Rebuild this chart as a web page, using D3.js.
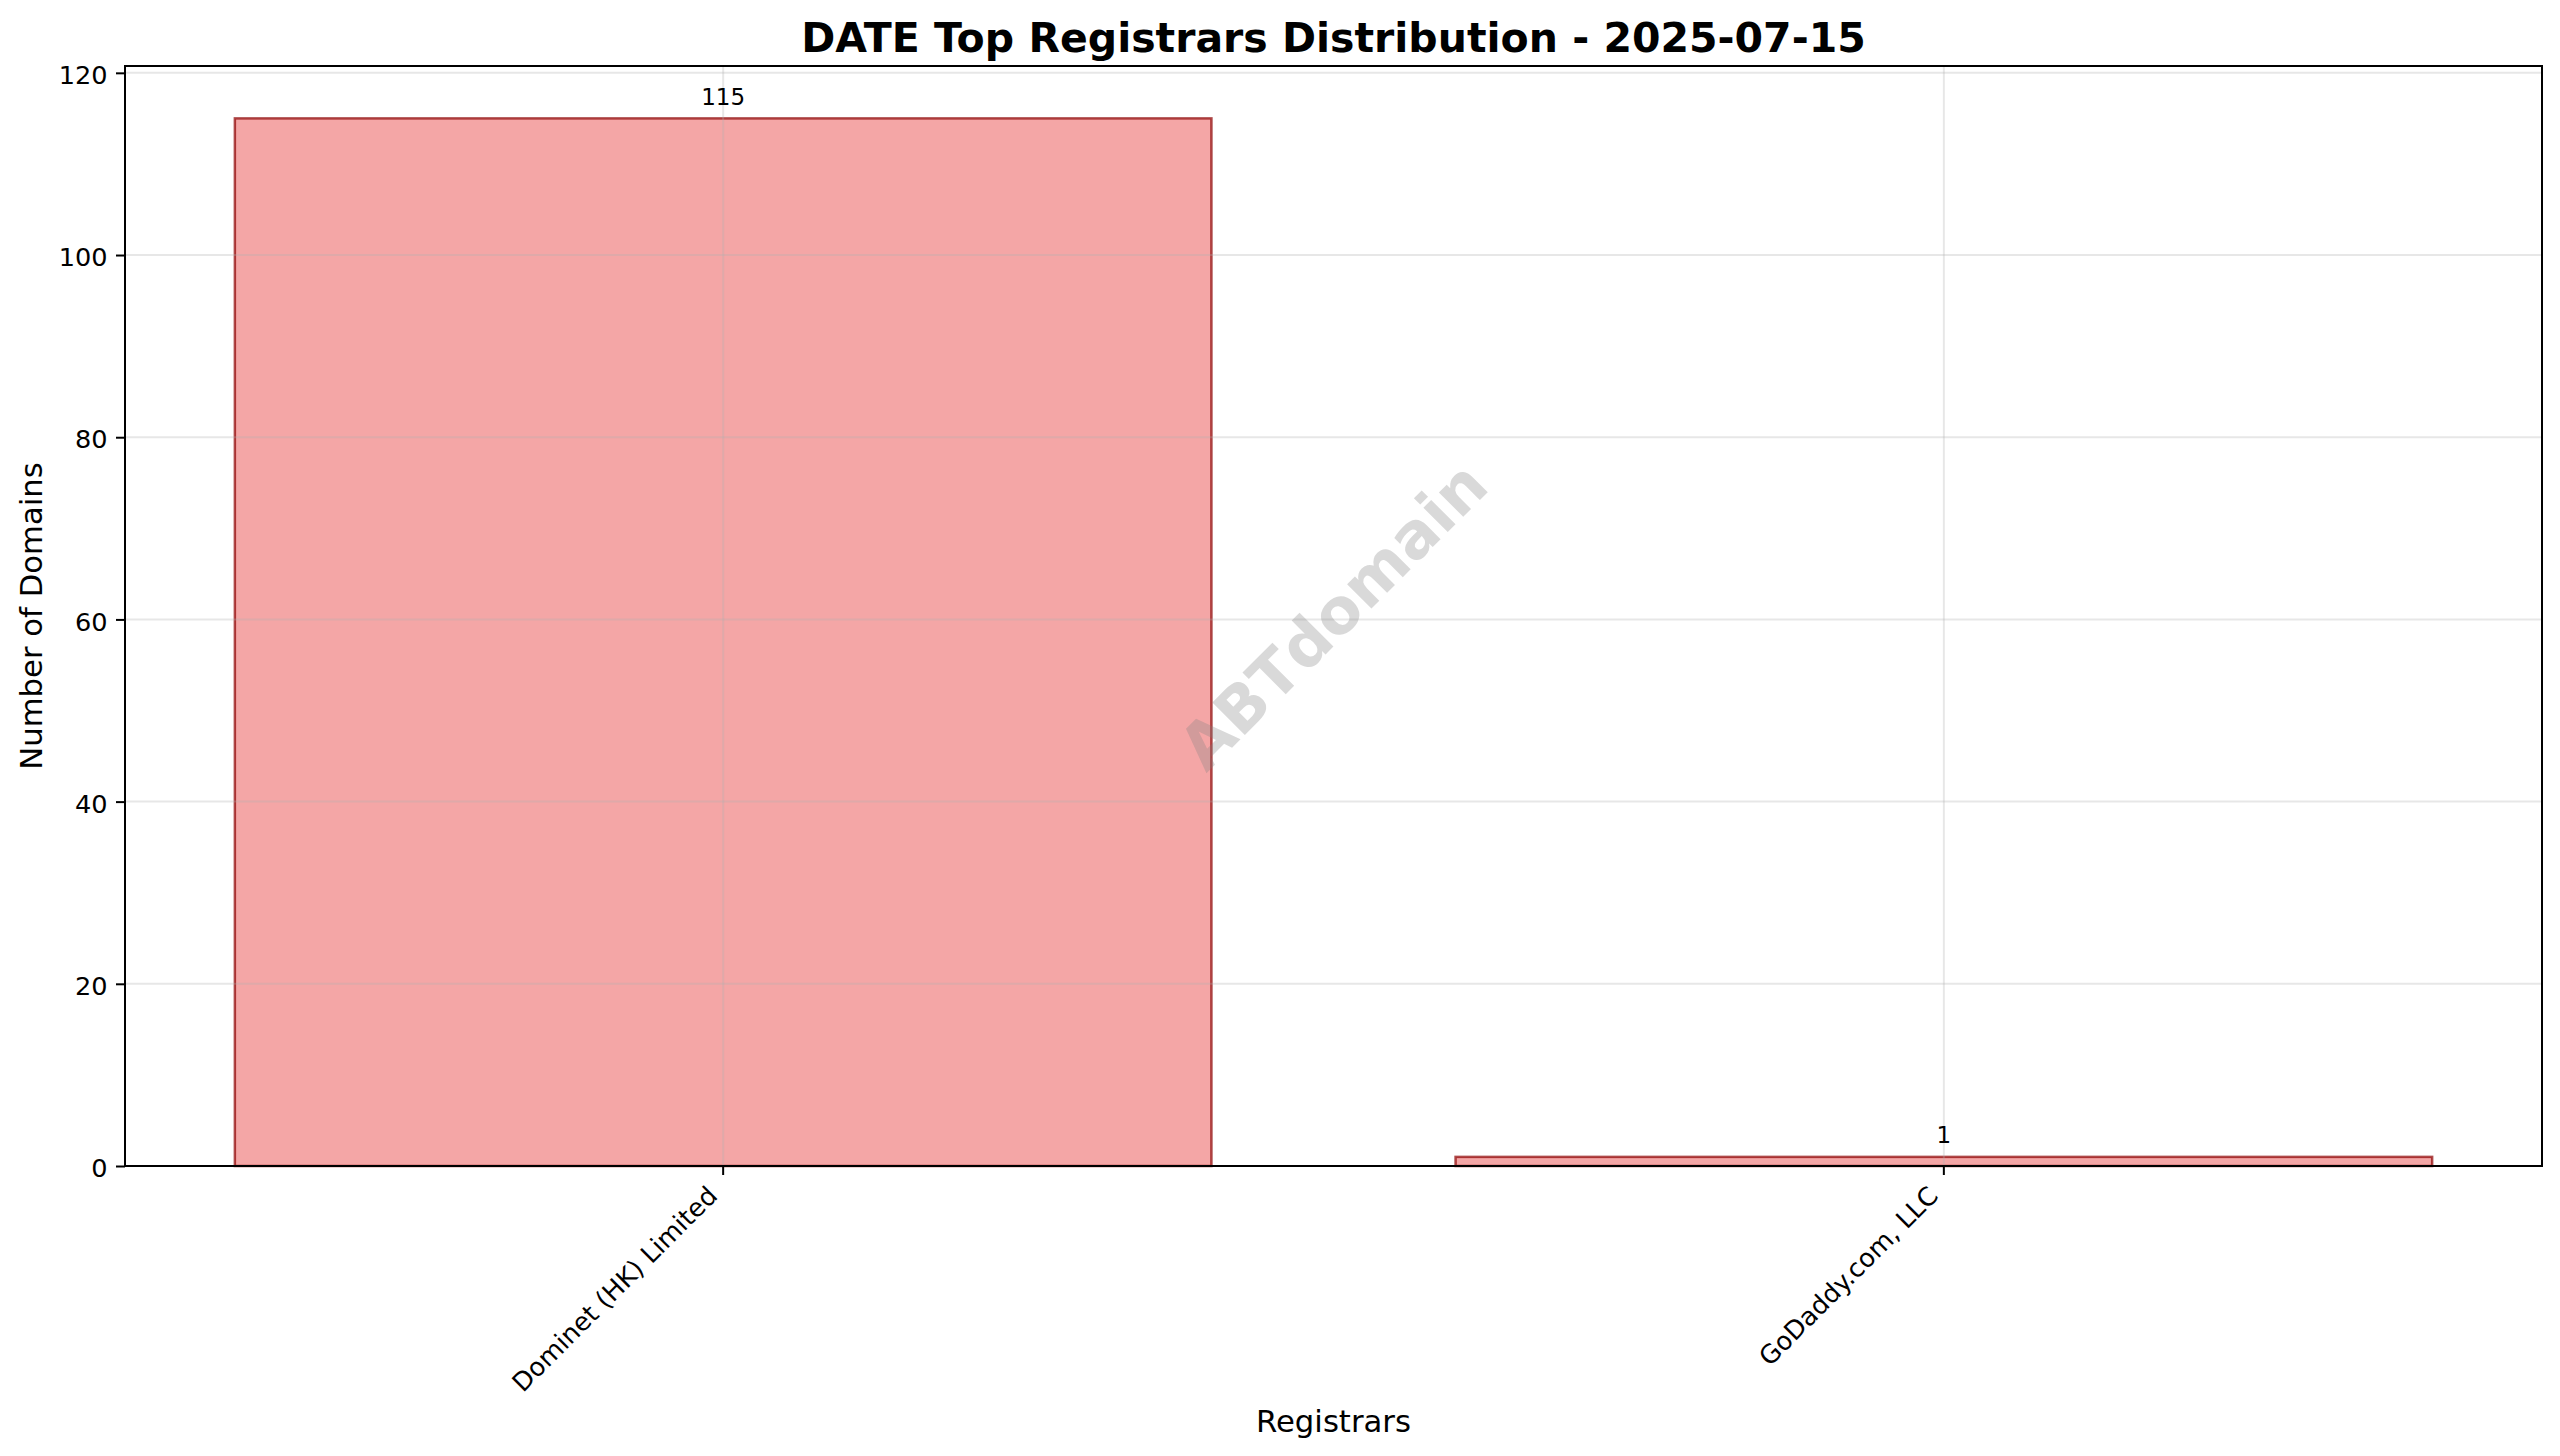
<!DOCTYPE html>
<html><head><meta charset="utf-8">
<script src="https://cdn.jsdelivr.net/npm/d3@7"></script>
<style>body{margin:0;background:#fff} svg{display:block} text{font-family:"DejaVu Sans",sans-serif}</style>
</head><body>
<script>
const categories = ["Dominet (HK) Limited", "GoDaddy.com, LLC"];
const values = [115, 1];
const yTicks = [0, 20, 40, 60, 80, 100, 120];
const titleText = "DATE Top Registrars Distribution - 2025-07-15";
const xLabel = "Registrars";
const yLabel = "Number of Domains";
const watermark = "ABTdomain";

const W = 2560, H = 1456;
const L = 125, R = 2542, T = 66, B = 1166;
const svg = d3.select("body").append("svg").attr("width", W).attr("height", H);
svg.append("rect").attr("width", W).attr("height", H).attr("fill", "#fff");

const x = d3.scaleBand().domain(categories).range([L, R]).paddingInner(0.2).paddingOuter(0.09);
const yMax = d3.max(values) * 1.05;
const y = d3.scaleLinear().domain([0, yMax]).range([B, T]);

const lw = 2.0;
const tickLen = 9, tickPad = 8.5;

// bars
svg.append("g").selectAll("rect").data(values).join("rect")
  .attr("x", (d, i) => x(categories[i]))
  .attr("width", x.bandwidth())
  .attr("y", d => y(d))
  .attr("height", d => y(0) - y(d))
  .attr("fill", "#F08080").attr("fill-opacity", 0.7)
  .attr("stroke", "#8B0000").attr("stroke-opacity", 0.7).attr("stroke-width", 2.5);

// grid (above bars as in matplotlib)
const grid = svg.append("g");
grid.selectAll("line.h").data(yTicks).join("line").attr("class", "h")
  .attr("x1", L).attr("x2", R).attr("y1", d => y(d)).attr("y2", d => y(d))
  .attr("stroke", "#b0b0b0").attr("stroke-opacity", 0.3).attr("stroke-width", lw);
grid.selectAll("line.v").data(categories).join("line").attr("class", "v")
  .attr("y1", T).attr("y2", B).attr("x1", d => x(d) + x.bandwidth() / 2).attr("x2", d => x(d) + x.bandwidth() / 2)
  .attr("stroke", "#b0b0b0").attr("stroke-opacity", 0.3).attr("stroke-width", lw);

// value labels
svg.append("g").selectAll("text").data(values).join("text")
  .attr("x", (d, i) => x(categories[i]) + x.bandwidth() / 2)
  .attr("y", d => y(d + 1) - 4.5)
  .attr("text-anchor", "middle").attr("font-size", 23).attr("fill", "#000")
  .text(d => d);

// watermark
svg.append("text")
  .attr("transform", `translate(${(L + R) / 2},${(T + B) / 2}) rotate(-45)`)
  .attr("text-anchor", "middle").attr("dominant-baseline", "central")
  .attr("font-size", 63).attr("font-weight", "bold").attr("fill", "#808080").attr("fill-opacity", 0.3)
  .text(watermark);

// y axis
const yAxis = d3.axisLeft(y).tickValues(yTicks).tickSize(tickLen).tickPadding(tickPad);
const gy = svg.append("g").attr("transform", `translate(${L},0)`).call(yAxis);
gy.select(".domain").remove();
gy.selectAll(".tick line").attr("stroke", "#000").attr("stroke-width", lw);
gy.selectAll(".tick text").attr("font-size", 25.6).attr("fill", "#000")
  .attr("font-family", "DejaVu Sans").attr("dy", "0.42em");

// x axis
const xAxis = d3.axisBottom(x).tickSize(tickLen).tickFormat(() => "");
const gx = svg.append("g").attr("transform", `translate(0,${B})`).call(xAxis);
gx.select(".domain").remove();
gx.selectAll(".tick line").attr("stroke", "#000").attr("stroke-width", lw);
// rotated tick labels (ha=right, rotation 45)
const fs = 25.6, asc = 0.76 * fs, desc = 0.236 * fs;
svg.append("g").selectAll("text").data(categories).join("text")
  .attr("transform", d => `translate(${x(d) + x.bandwidth() / 2 - desc / Math.SQRT2},${B + tickLen + tickPad + asc / Math.SQRT2}) rotate(-45)`)
  .attr("text-anchor", "end").attr("font-size", fs).attr("fill", "#000")
  .text(d => d);

// spines
svg.append("rect").attr("x", L).attr("y", T).attr("width", R - L).attr("height", B - T)
  .attr("fill", "none").attr("stroke", "#000").attr("stroke-width", lw);

// title & labels
svg.append("text").attr("x", (L + R) / 2).attr("y", 51.7).attr("text-anchor", "middle")
  .attr("font-size", 41).attr("font-weight", "bold").attr("fill", "#000").text(titleText);
svg.append("text").attr("x", (L + R) / 2).attr("y", 1431.7).attr("text-anchor", "middle")
  .attr("font-size", 30.7).attr("fill", "#000").text(xLabel);
svg.append("text").attr("transform", `translate(41.7,${(T + B) / 2}) rotate(-90)`).attr("text-anchor", "middle")
  .attr("font-size", 30.7).attr("fill", "#000").text(yLabel);
</script>
</body></html>
